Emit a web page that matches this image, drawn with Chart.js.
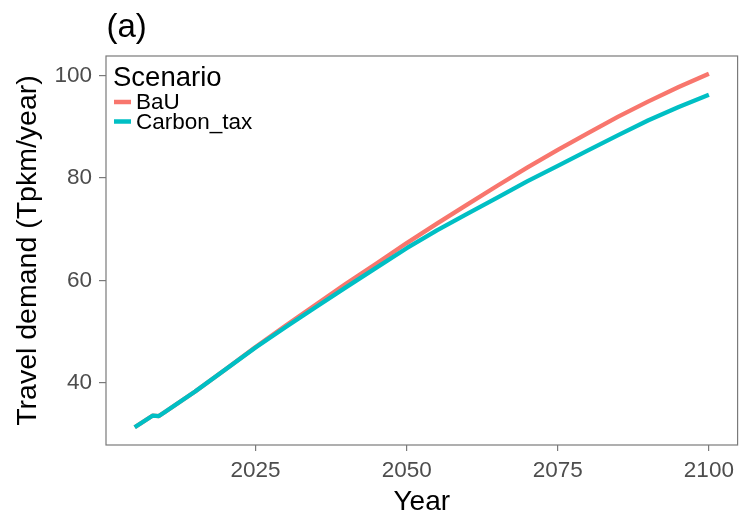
<!DOCTYPE html>
<html>
<head>
<meta charset="utf-8">
<script src="https://cdn.jsdelivr.net/npm/chart.js@4.4.1/dist/chart.umd.min.js"></script>
<style>
  html, body { margin: 0; padding: 0; background: #ffffff; }
  #wrap { width: 740px; height: 519px; position: relative; }
</style>
</head>
<body>
<div id="wrap"><canvas id="c" width="740" height="519"></canvas></div>
<script>
// ---- data ----
const years = [2005, 2008, 2009, 2010, 2015, 2020, 2025, 2030, 2035, 2040, 2045, 2050,
               2055, 2060, 2065, 2070, 2075, 2080, 2085, 2090, 2095, 2100];
const bau = [31.3, 33.6, 33.5, 34.3, 38.3, 42.6, 47.0, 51.2, 55.3, 59.4, 63.3, 67.3,
             71.1, 74.8, 78.5, 82.1, 85.5, 88.8, 92.0, 95.0, 97.8, 100.4];
const carbonTax = [31.3, 33.6, 33.5, 34.3, 38.3, 42.6, 46.9, 50.9, 54.8, 58.7, 62.5, 66.3,
                   69.8, 73.0, 76.2, 79.4, 82.4, 85.4, 88.4, 91.3, 93.9, 96.3];
const seriesNames = ['BaU', 'Carbon_tax'];
const xTicks = [2025, 2050, 2075, 2100];
const yTicks = [40, 60, 80, 100];
const panelTitle = '(a)';
const xTitle = 'Year';
const yTitle = 'Travel demand (Tpkm/year)';
const legendTitle = 'Scenario';

// ggplot-like 5% expansion of the data range
function expand(arr) {
  const lo = Math.min(...arr), hi = Math.max(...arr), r = hi - lo;
  return [lo - 0.05 * r, hi + 0.05 * r];
}
const [xMin, xMax] = expand(years);
const [yMin, yMax] = expand(bau.concat(carbonTax));

const FONT = "'Liberation Sans', Arial, sans-serif";
const colors = ['#F8766D', '#00BFC4'];
const axisGrey = '#7a7a7a';

const frame = {
  id: 'frame',
  afterDatasetsDraw(chart) {
    const { ctx, chartArea: a } = chart;
    ctx.save();
    ctx.strokeStyle = axisGrey;
    ctx.lineWidth = 1.2;
    ctx.strokeRect(a.left, a.top, a.right - a.left, a.bottom - a.top);
    // panel tag
    ctx.fillStyle = '#000';
    ctx.font = '33px ' + FONT;
    ctx.textAlign = 'left';
    ctx.textBaseline = 'middle';
    ctx.fillText(panelTitle, a.left + 0.5, 28);
    // legend inside panel
    ctx.font = '27.5px ' + FONT;
    ctx.textBaseline = 'alphabetic';
    ctx.fillText(legendTitle, a.left + 7, 86);
    ctx.font = '22.5px ' + FONT;
    ctx.textBaseline = 'middle';
    chart.data.datasets.forEach((ds, i) => {
      const y = 102 + i * 19.5;
      ctx.strokeStyle = ds.borderColor;
      ctx.lineWidth = 4.5;
      ctx.lineCap = 'butt';
      ctx.beginPath();
      ctx.moveTo(a.left + 8, y);
      ctx.lineTo(a.left + 25, y);
      ctx.stroke();
      ctx.fillStyle = '#000';
      ctx.fillText(ds.label, a.left + 30, y + 1);
    });
    ctx.restore();
  }
};

new Chart(document.getElementById('c'), {
  type: 'line',
  data: {
    datasets: [
      { label: seriesNames[0], data: years.map((x, i) => ({ x, y: bau[i] })),
        borderColor: colors[0], backgroundColor: colors[0], borderWidth: 4.3,
        pointRadius: 0, tension: 0, order: 2, borderJoinStyle: 'round' },
      { label: seriesNames[1], data: years.map((x, i) => ({ x, y: carbonTax[i] })),
        borderColor: colors[1], backgroundColor: colors[1], borderWidth: 4.3,
        pointRadius: 0, tension: 0, order: 1, borderJoinStyle: 'round' }
    ]
  },
  options: {
    responsive: false,
    animation: false,
    devicePixelRatio: 1,
    layout: { padding: { left: 0, right: 2, top: 56, bottom: 0 } },
    plugins: { legend: { display: false }, tooltip: { enabled: false }, title: { display: false } },
    scales: {
      x: {
        type: 'linear', min: xMin, max: xMax,
        afterBuildTicks: s => { s.ticks = xTicks.map(v => ({ value: v })); },
        afterFit: s => { s.height = 74; },
        grid: { display: true, drawOnChartArea: false, drawTicks: true, tickLength: 6, color: axisGrey, lineWidth: 1.2 },
        border: { display: false },
        ticks: { autoSkip: false, maxRotation: 0, padding: 6, color: '#4d4d4d',
                 font: { family: FONT, size: 22.5 }, callback: v => String(v) },
        title: { display: true, text: xTitle, color: '#000', font: { family: FONT, size: 28 },
                 padding: { top: 0, bottom: 0 } }
      },
      y: {
        type: 'linear', min: yMin, max: yMax,
        afterBuildTicks: s => { s.ticks = yTicks.map(v => ({ value: v })); },
        afterFit: s => { s.width = 106; },
        grid: { display: true, drawOnChartArea: false, drawTicks: true, tickLength: 7, color: axisGrey, lineWidth: 1.2 },
        border: { display: false },
        ticks: { autoSkip: false, padding: 7, color: '#4d4d4d',
                 font: { family: FONT, size: 22.5 }, callback: v => String(v) },
        title: { display: true, text: yTitle, color: '#000', font: { family: FONT, size: 28.5 },
                 padding: { top: 11, bottom: 0 } }
      }
    }
  },
  plugins: [frame]
});
</script>
</body>
</html>
